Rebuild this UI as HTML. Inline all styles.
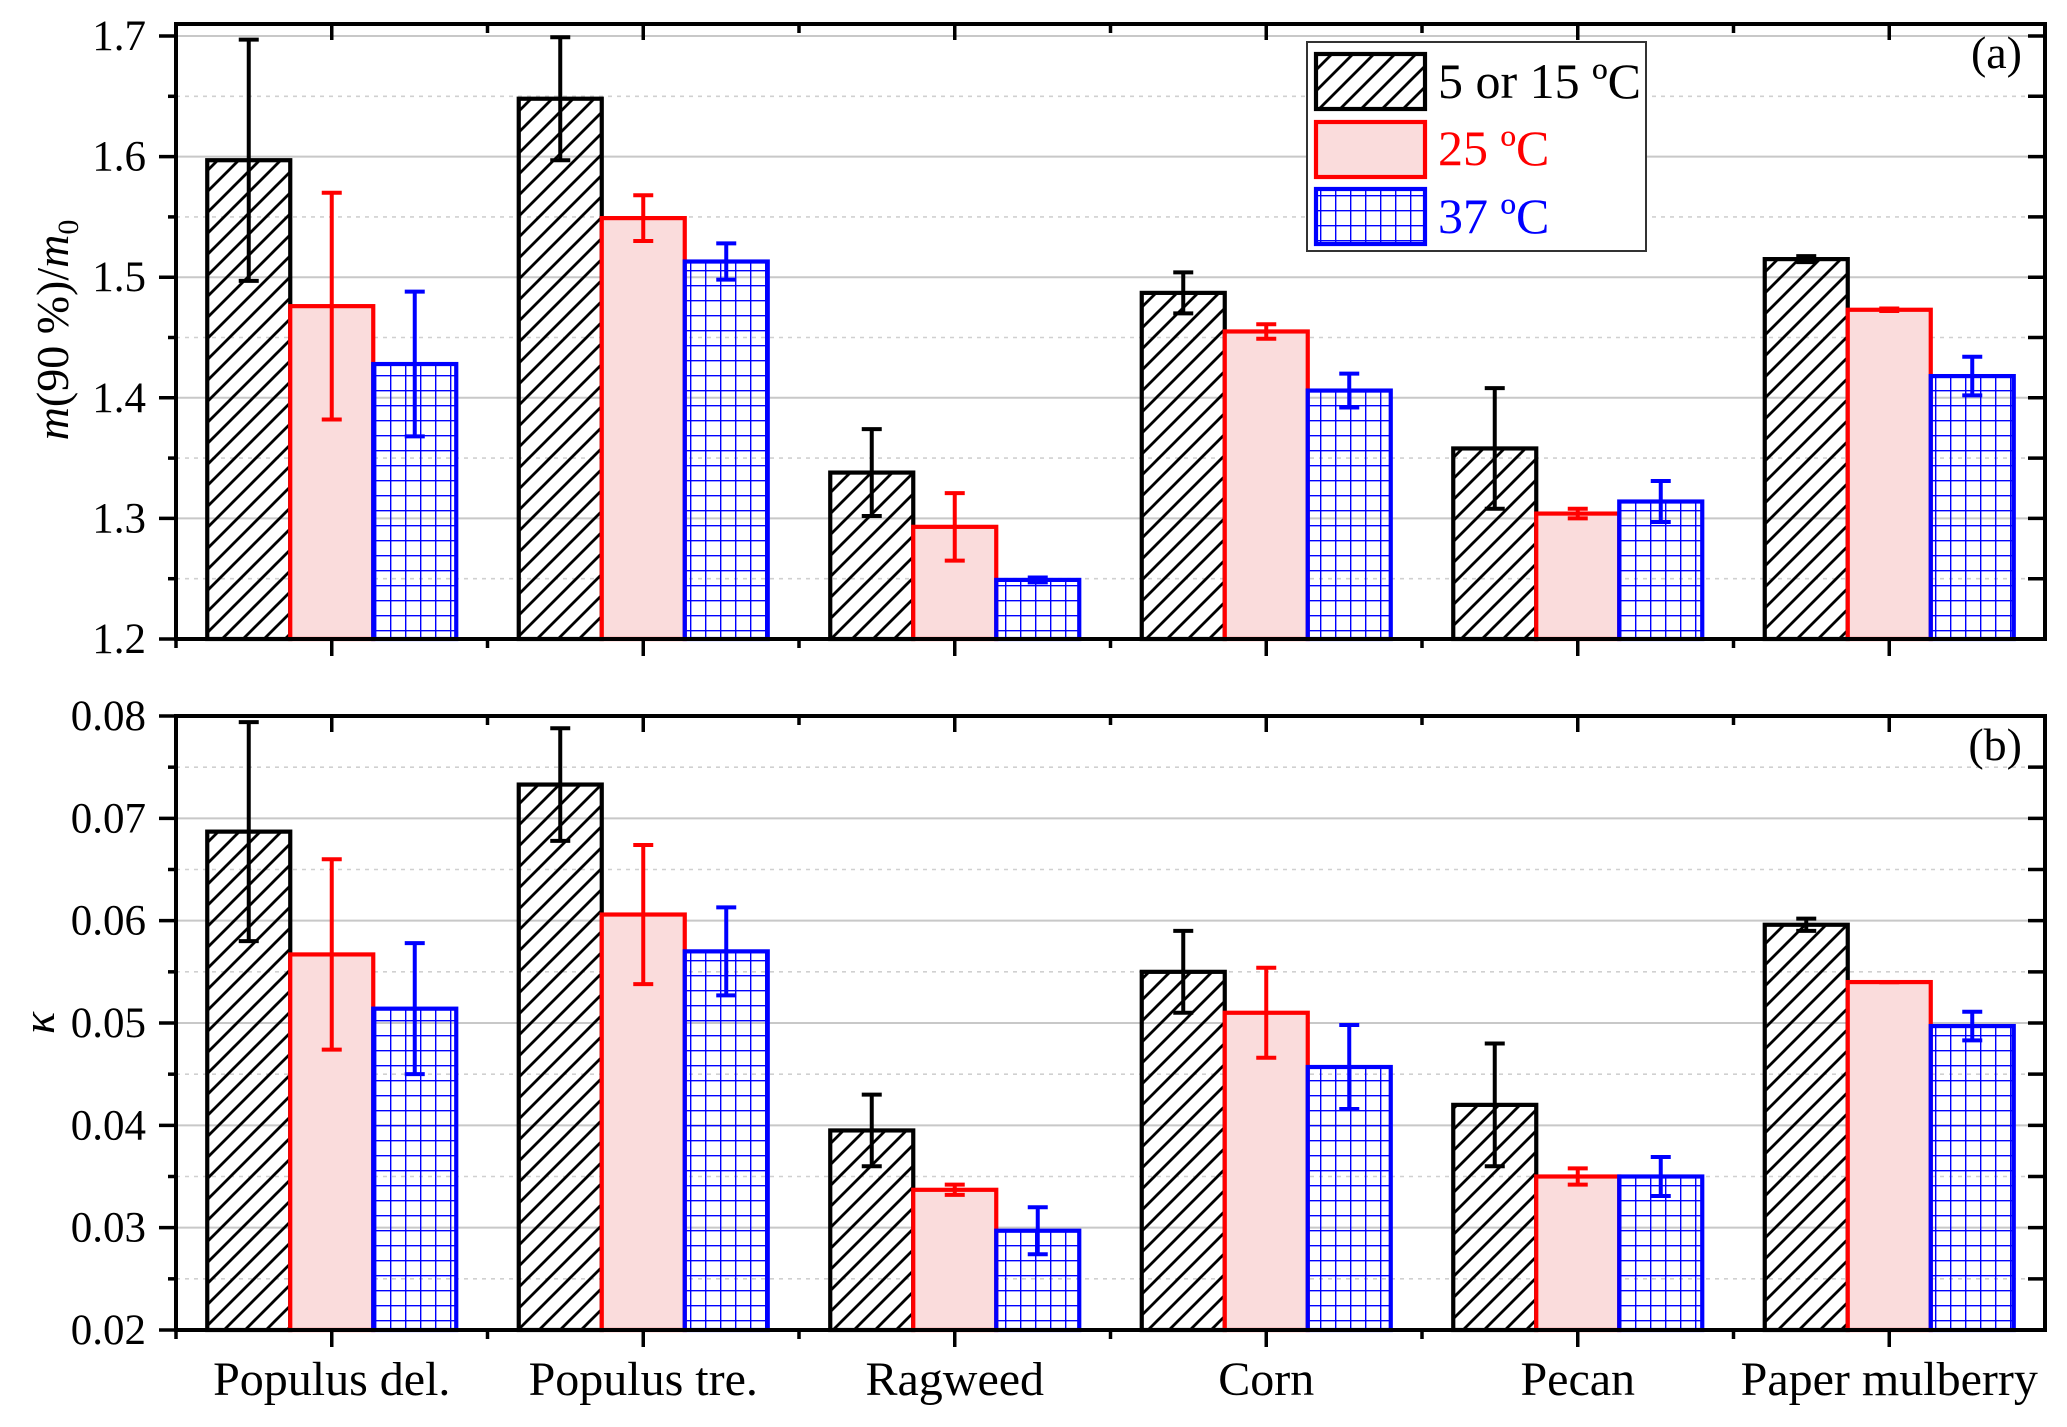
<!DOCTYPE html>
<html><head><meta charset="utf-8"><style>
html,body{margin:0;padding:0;background:#fff;}
svg{display:block;font-family:"Liberation Serif","DejaVu Serif",serif;}
</style></head><body>
<svg id="chart" width="2067" height="1427" viewBox="0 0 2067 1427" xmlns="http://www.w3.org/2000/svg">
<defs>
<pattern id="hatch" patternUnits="userSpaceOnUse" width="21" height="21">
<path d="M-3,24 L24,-3 M-3,3 L3,-3 M18,24 L24,18" stroke="#000" stroke-width="2.8"/>
</pattern>
<pattern id="grid" patternUnits="userSpaceOnUse" width="15" height="15">
<path d="M0,0 L15,0 M0,0 L0,15" stroke="#0000ff" stroke-width="2.8" fill="none"/>
</pattern>
</defs>
<g id="root"></g>
</svg>
<script>
const categories = ["Populus del.", "Populus tre.", "Ragweed", "Corn", "Pecan", "Paper mulberry"];
const seriesNames = ["5 or 15 ºC", "25 ºC", "37 ºC"];
const massLow = [1.597, 1.648, 1.338, 1.487, 1.358, 1.515];
const massMid = [1.476, 1.549, 1.293, 1.455, 1.304, 1.473];
const massHigh = [1.428, 1.513, 1.249, 1.406, 1.314, 1.418];
const massLowErr = [0.100, 0.051, 0.036, 0.017, 0.050, 0.0025];
const massMidErr = [0.094, 0.019, 0.028, 0.006, 0.004, 0.001];
const massHighErr = [0.060, 0.015, 0.002, 0.014, 0.017, 0.016];
const kappaLow = [0.0687, 0.0733, 0.0395, 0.0550, 0.0420, 0.0596];
const kappaMid = [0.0567, 0.0606, 0.0337, 0.0510, 0.0350, 0.0540];
const kappaHigh = [0.0514, 0.0570, 0.0297, 0.0457, 0.0350, 0.0497];
const kappaLowErr = [0.0107, 0.0055, 0.0035, 0.0040, 0.0060, 0.0006];
const kappaMidErr = [0.0093, 0.0068, 0.0005, 0.0044, 0.0008, 0.0000];
const kappaHighErr = [0.0064, 0.0043, 0.0023, 0.0041, 0.0019, 0.0014];
const massTicks = ["1.2", "1.3", "1.4", "1.5", "1.6", "1.7"];
const kappaTicks = ["0.02", "0.03", "0.04", "0.05", "0.06", "0.07", "0.08"];

const NS = "http://www.w3.org/2000/svg";
const root = document.getElementById("root");
function mk(tag, attrs, parent) {
  const e = document.createElementNS(NS, tag);
  for (const k in attrs) e.setAttribute(k, attrs[k]);
  (parent || root).appendChild(e);
  return e;
}
const X0 = 176, X1 = 2045;
const catW = (X1 - X0) / categories.length;
function xCenter(i) { return X0 + catW * (i + 0.5); }
const barW = 83;

const fills = ["url(#hatch)", "#fadcdc", "url(#grid)"];
const strokes = ["#000", "#ff0000", "#0000ff"];

function panel(cfg) {
  const g = mk("g", {});
  
  
  const yy = v => cfg.yBot - (v - cfg.min) / (cfg.max - cfg.min) * (cfg.yBot - cfg.yMaxPx);
  const nMaj = cfg.ticks.length;
  for (let k = 0; k < nMaj; k++) {
    const v = parseFloat(cfg.ticks[k]);
    const py = yy(v);
    if (k > 0 && py > cfg.top + 2) {
      const l = mk("line", {x1: X0, x2: X1, y1: py, y2: py, stroke: "#c8c8c8", "stroke-width": 2}, g);
      
      
    }
    if (k < nMaj - 1) {
      const vm = v + cfg.step / 2;
      const pm = yy(vm);
      const l2 = mk("line", {x1: X0, x2: X1, y1: pm, y2: pm, stroke: "#d0d0d0", "stroke-width": 1.6, "stroke-dasharray": "4,5"}, g);
      
      
      mk("line", {x1: X0 - 8, x2: X0, y1: pm, y2: pm, stroke: "#000", "stroke-width": 3.5}, g);
      mk("line", {x1: X1 - 17, x2: X1, y1: pm, y2: pm, stroke: "#000", "stroke-width": 3.5}, g);
    }
    mk("line", {x1: X0 - 17, x2: X0, y1: py, y2: py, stroke: "#000", "stroke-width": 3.5}, g);
    mk("line", {x1: X1 - 17, x2: X1, y1: py, y2: py, stroke: "#000", "stroke-width": 3.5}, g);
    const t = mk("text", {x: 146, y: py + 14, "text-anchor": "end", "font-size": 43}, g);
    t.textContent = cfg.ticks[k];
    
    
  }
  for (let i = 0; i < categories.length; i++) {
    const cx = xCenter(i);
    for (let s = 0; s < 3; s++) {
      const v = cfg.vals[s][i];
      const left = cx - 1.5 * barW + s * barW;
      const top = yy(v);
      const r = mk("rect", {x: left, y: top, width: barW, height: cfg.yBot - top, fill: fills[s], stroke: strokes[s], "stroke-width": 4.2}, g);
      
      
    }
    for (let s = 0; s < 3; s++) {
      const v = cfg.vals[s][i], e = cfg.errs[s][i];
      const bx = cx - barW + s * barW;
      const eg = mk("g", {stroke: strokes[s], "stroke-width": 4}, g);
      
      
      mk("line", {x1: bx, x2: bx, y1: yy(v + e), y2: yy(v - e)}, eg);
      mk("line", {x1: bx - 10, x2: bx + 10, y1: yy(v + e), y2: yy(v + e)}, eg);
      mk("line", {x1: bx - 10, x2: bx + 10, y1: yy(v - e), y2: yy(v - e)}, eg);
    }
    mk("line", {x1: cx, x2: cx, y1: cfg.yBot, y2: cfg.yBot + 17, stroke: "#000", "stroke-width": 3.5}, g);
    mk("line", {x1: cx, x2: cx, y1: cfg.top, y2: cfg.top + 16, stroke: "#000", "stroke-width": 3.5}, g);
    const ex = X0 + catW * i;
    mk("line", {x1: ex, x2: ex, y1: cfg.yBot, y2: cfg.yBot + 9, stroke: "#000", "stroke-width": 3.5}, g);
    mk("line", {x1: ex, x2: ex, y1: cfg.top, y2: cfg.top + 9, stroke: "#000", "stroke-width": 3.5}, g);
  }
  const fr = mk("rect", {x: X0, y: cfg.top, width: X1 - X0, height: cfg.yBot - cfg.top, fill: "none", stroke: "#000", "stroke-width": 4}, g);
  
  
  const pl = mk("text", {x: 2022, y: cfg.top + 44, "text-anchor": "end", "font-size": 46}, g);
  pl.textContent = cfg.label;
  
  
  return g;
}

panel({name: "panel-a", top: 24, yBot: 639, yMaxPx: 36, min: 1.2, max: 1.7, step: 0.1, ticks: massTicks,
  vals: [massLow, massMid, massHigh], errs: [massLowErr, massMidErr, massHighErr], label: "(a)"});
panel({name: "panel-b", top: 716, yBot: 1330, yMaxPx: 716, min: 0.02, max: 0.08, step: 0.01, ticks: kappaTicks,
  vals: [kappaLow, kappaMid, kappaHigh], errs: [kappaLowErr, kappaMidErr, kappaHighErr], label: "(b)"});

for (let i = 0; i < categories.length; i++) {
  const t = mk("text", {x: xCenter(i), y: 1395, "text-anchor": "middle", "font-size": 48});
  t.textContent = categories[i];
  
  
}
const yt = mk("text", {transform: "translate(68,330) rotate(-90)", "text-anchor": "middle", "font-size": 46});
yt.innerHTML = '<tspan font-style="italic">m</tspan>(90 %)/<tspan font-style="italic">m</tspan><tspan font-size="30" dy="10">0</tspan>';


const yk = mk("text", {transform: "translate(54,1023) rotate(-90)", "text-anchor": "middle", "font-size": 46, "font-style": "italic"});
yk.textContent = "κ";



const lg = mk("g", {});


mk("rect", {x: 1307, y: 42, width: 339, height: 209, fill: "#fff", stroke: "#333", "stroke-width": 2}, lg);
const rowsY = [54, 122, 189];
const baseY = [98, 165, 233];
for (let s = 0; s < 3; s++) {
  const e = mk("g", {}, lg);
  
  
  mk("rect", {x: 1316, y: rowsY[s], width: 109, height: 55, fill: fills[s], stroke: strokes[s], "stroke-width": 4.2}, e);
  const t = mk("text", {x: 1438, y: baseY[s], "font-size": 50, fill: strokes[s]}, e);
  t.textContent = seriesNames[s];
}
</script>
</body></html>
